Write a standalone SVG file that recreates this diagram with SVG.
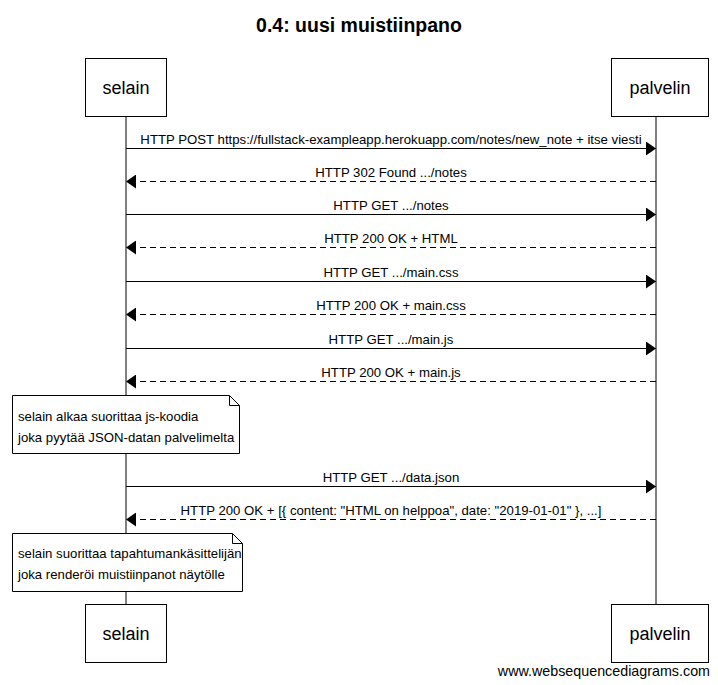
<svg xmlns="http://www.w3.org/2000/svg" width="718" height="685" viewBox="0 0 718 685">
<style>
text{font-family:"Liberation Sans",Arial,sans-serif;fill:#000}
.actor rect{fill:#fff;stroke:#000;stroke-width:1}
.actor text{font-size:18px;text-anchor:middle}
.life{stroke:#000;stroke-width:1}
.msg line{stroke:#000;stroke-width:1}
.dash{stroke-dasharray:6,4}
.lbl{font-size:13.2px;text-anchor:middle}
.note path{fill:#fff;stroke:#000;stroke-width:1}
.note text{font-size:13.2px}
</style>
<defs>
<marker id="ah" viewBox="0 0 10 14" refX="10" refY="7" markerWidth="10" markerHeight="14" markerUnits="userSpaceOnUse" orient="auto">
<path d="M0,0 L10,7 L0,14 z" fill="#000"/>
</marker>
</defs>
<rect width="718" height="685" fill="#fff"/>
<text x="359" y="32" style="font-size:19.5px;font-weight:bold" text-anchor="middle">0.4: uusi muistiinpano</text>
<g id="lifelines">
<line class="life" x1="126" y1="116" x2="126" y2="604"/>
<line class="life" x1="656" y1="116" x2="656" y2="604"/>
</g>
<g id="selain" class="actor">
<rect x="85.5" y="58.5" width="81" height="58"/>
<text x="126" y="94">selain</text>
</g>
<g id="palvelin" class="actor">
<rect x="611.5" y="58.5" width="97" height="58"/>
<text x="660" y="94">palvelin</text>
</g>
<g id="selain-bottom" class="actor">
<rect x="85.5" y="604.5" width="81" height="58"/>
<text x="126" y="640">selain</text>
</g>
<g id="palvelin-bottom" class="actor">
<rect x="611.5" y="604.5" width="97" height="58"/>
<text x="660" y="640">palvelin</text>
</g>
<g id="connectors" class="msg">
<line x1="126" y1="148.5" x2="656" y2="148.5" marker-end="url(#ah)"/>
<text class="lbl" x="391" y="144">HTTP POST https://fullstack-exampleapp.herokuapp.com/notes/new_note + itse viesti</text>
<line class="dash" x1="656" y1="181.5" x2="126" y2="181.5" marker-end="url(#ah)"/>
<text class="lbl" x="391" y="177">HTTP 302 Found .../notes</text>
<line x1="126" y1="214.5" x2="656" y2="214.5" marker-end="url(#ah)"/>
<text class="lbl" x="391" y="210">HTTP GET .../notes</text>
<line class="dash" x1="656" y1="247.5" x2="126" y2="247.5" marker-end="url(#ah)"/>
<text class="lbl" x="391" y="243">HTTP 200 OK + HTML</text>
<line x1="126" y1="281.5" x2="656" y2="281.5" marker-end="url(#ah)"/>
<text class="lbl" x="391" y="277">HTTP GET .../main.css</text>
<line class="dash" x1="656" y1="314.5" x2="126" y2="314.5" marker-end="url(#ah)"/>
<text class="lbl" x="391" y="310">HTTP 200 OK + main.css</text>
<line x1="126" y1="348.5" x2="656" y2="348.5" marker-end="url(#ah)"/>
<text class="lbl" x="391" y="344">HTTP GET .../main.js</text>
<line class="dash" x1="656" y1="381.5" x2="126" y2="381.5" marker-end="url(#ah)"/>
<text class="lbl" x="391" y="377">HTTP 200 OK + main.js</text>
<line x1="126" y1="486.5" x2="656" y2="486.5" marker-end="url(#ah)"/>
<text class="lbl" x="391" y="482">HTTP GET .../data.json</text>
<line class="dash" x1="656" y1="519.5" x2="126" y2="519.5" marker-end="url(#ah)"/>
<text class="lbl" x="391" y="515">HTTP 200 OK + [{ content: "HTML on helppoa", date: "2019-01-01" }, ...]</text>
</g>
<g id="note1" class="note">
<path d="M12.5,395.5 H229.5 L239.5,405.5 V453.5 H12.5 Z M229.5,395.5 V405.5 H239.5"/>
<text x="18" y="421">selain alkaa suorittaa js-koodia</text>
<text x="18" y="442">joka pyytää JSON-datan palvelimelta</text>
</g>
<g id="note2" class="note">
<path d="M12.5,533.5 H232.5 L242.5,543.5 V591.5 H12.5 Z M232.5,533.5 V543.5 H242.5"/>
<text x="18" y="558">selain suorittaa tapahtumankäsittelijän</text>
<text x="18" y="579">joka renderöi muistiinpanot näytölle</text>
</g>
<text x="710" y="676" style="font-size:14.3px" text-anchor="end">www.websequencediagrams.com</text>
</svg>
